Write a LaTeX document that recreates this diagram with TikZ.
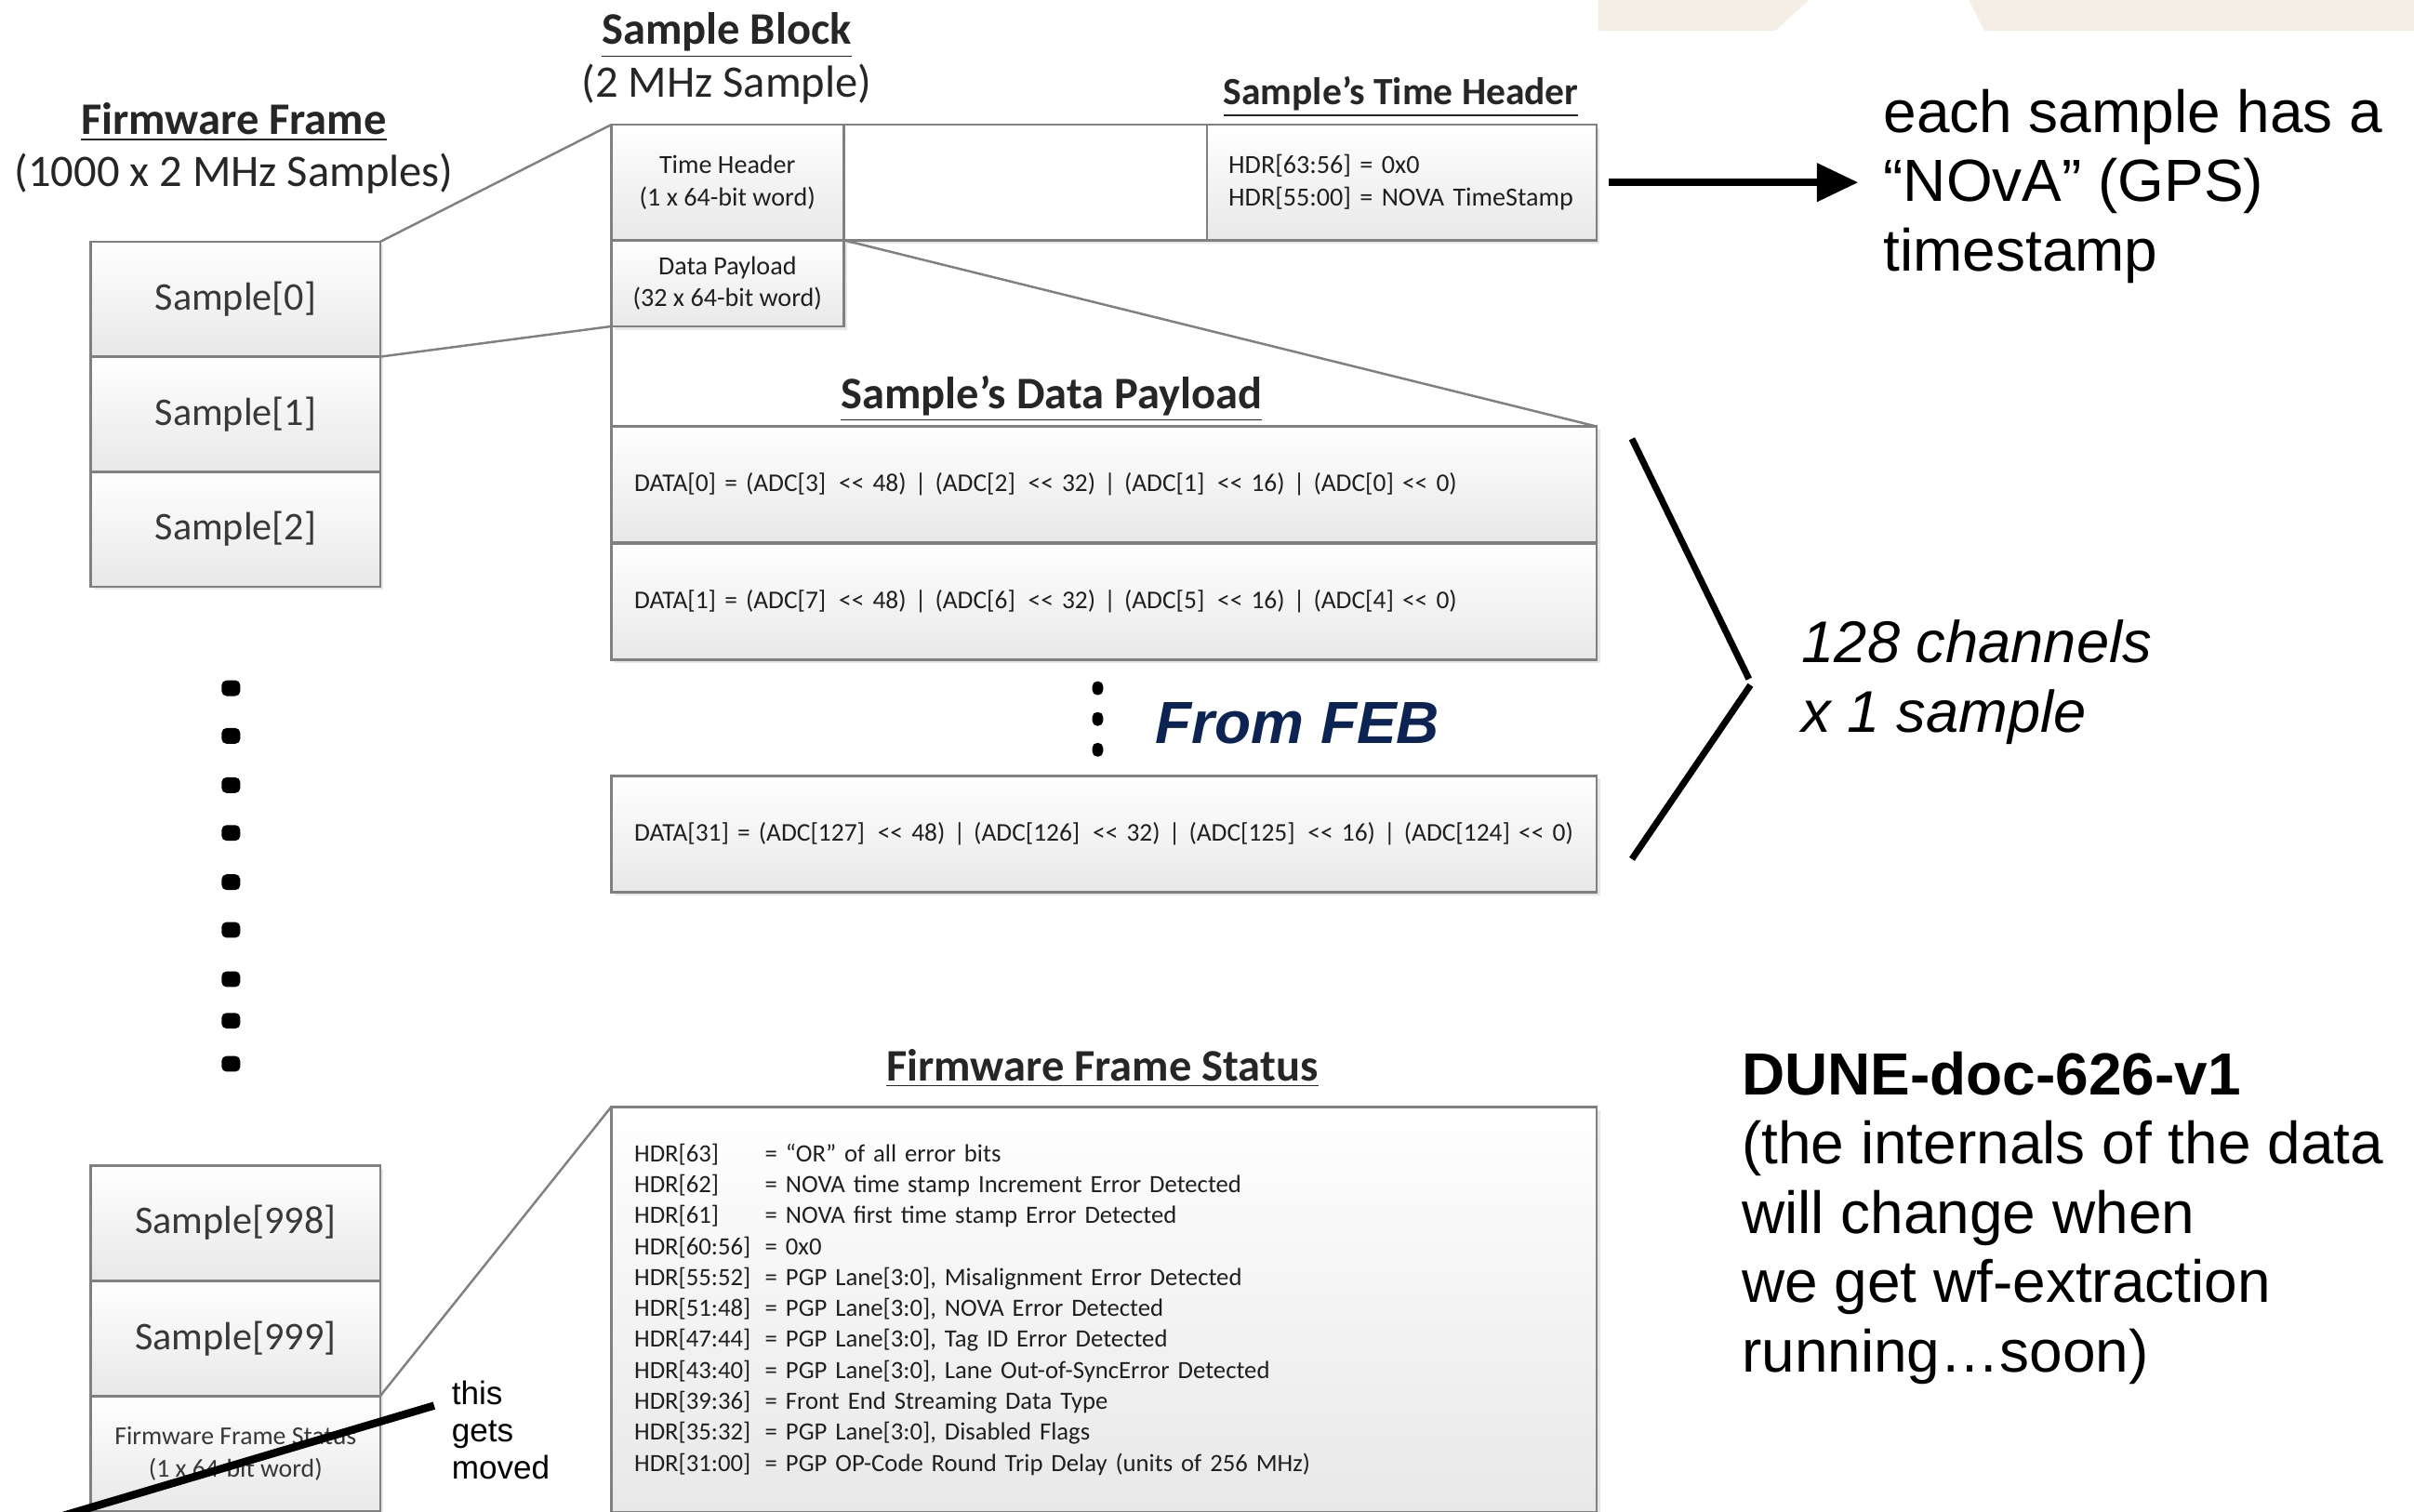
\documentclass[tikz,border=0pt]{standalone}
\usepackage{fontspec}
\setmainfont{Carlito}
\newfontfamily\arialfont{Liberation Sans}
\usetikzlibrary{arrows.meta,shadows}
\definecolor{febblue}{RGB}{12,36,84}
\definecolor{bandbeige}{RGB}{244,238,228}
\colorlet{boxline}{black!50}
\colorlet{boxtext}{black!78}
\newcommand{\spx}{0.4711pt}
\newcommand{\shl}{\mbox{<}\mbox{<}}
\newcommand{\hdr}[1]{\makebox[40pt][l]{#1}}
\begin{document}
\begin{tikzpicture}[x=\spx, y=-\spx,
	fwbox/.style={draw=boxline, line width=0.7pt, top color=white, bottom color=black!9, inner sep=0pt, outer sep=0pt, anchor=north west, text=boxtext, drop shadow={opacity=0.18, shadow xshift=1pt, shadow yshift=-1pt}},
	sampbox/.style={fwbox, minimum width=188*\spx, minimum height=74.7*\spx, font=\fontsize{12}{14}\selectfont},
	smallbox/.style={fwbox, align=center, text=black!88, font=\fontsize{8}{9.9}\selectfont},
	rowbox/.style={fwbox, text width=287.4pt, inner xsep=7.07pt, align=left, minimum height=75.5*\spx, text=black!88, font=\fontsize{7.8}{9.5}\selectfont},
	title/.style={inner sep=0pt, align=center, text=black!85, font=\fontsize{13.8}{16}\selectfont},
	note/.style={inner sep=0pt, anchor=west, align=left, font=\arialfont\fontsize{18.2}{21.2}\selectfont},
	bigdot/.style={fill=black, rounded corners=1.5pt, inner sep=0pt, minimum width=5.7pt, minimum height=4.8pt},
	smalldot/.style={fill=black, rounded corners=1.5pt, inner sep=0pt, minimum width=3.3pt, minimum height=4.2pt},
	zoomline/.style={draw=boxline, line width=0.7pt}
]
	\clip (0,0) rectangle (1568,982);
	\fill[white] (0,0) rectangle (1568,982);
	\fill[bandbeige] (1038,0) -- (1175,0) -- (1153,20) -- (1038,20) -- cycle;
	\fill[bandbeige] (1279,0) -- (1568,0) -- (1568,20) -- (1289,20) -- cycle;

	\node (fwtitle) at (152,96.5) [title] {\underline{\textbf{Firmware Frame}}\\(1000 x 2 MHz Samples)};
	\node (sbtitle) at (472,38) [title] {\underline{\textbf{Sample Block}}\\(2 MHz Sample)};
	\node (thtitle) at (910,63) [title, font=\fontsize{11.8}{14}\selectfont] {\underline{\textbf{Sample’s Time Header}}};
	\node (dptitle) at (683,259) [title] {\underline{\textbf{Sample’s Data Payload}}};
	\node (fstitle) at (716,694) [title] {\underline{\textbf{Firmware Frame Status}}};

	\node (s0) at (59,157) [sampbox] {Sample[0]};
	\node (s1) at (59,231.7) [sampbox] {Sample[1]};
	\node (s2) at (59,306.4) [sampbox] {Sample[2]};
	\foreach \y [count=\i] in {447,478,510,541,573,604,636,663,691}
		\node (dot\i) at (150,\y) [bigdot] {};
	\node (s998) at (59,757) [sampbox] {Sample[998]};
	\node (s999) at (59,832) [sampbox] {Sample[999]};
	\node (sfs) at (59,907) [sampbox, align=center, font=\fontsize{7.9}{9.9}\selectfont] {Firmware Frame Status\\(1 x 64-bit word)};

	\node (timehdr) at (397,81) [smallbox, minimum width=151*\spx, minimum height=75*\spx] {Time Header\\(1 x 64-bit word)};
	\node (midcell) at (548,81) [smallbox, top color=white, bottom color=white, minimum width=236*\spx, minimum height=75*\spx] {};
	\node (hdrcell) at (784,81) [smallbox, align=left, text width=106pt, inner xsep=6.6pt, minimum height=75*\spx] {HDR[63:56] = 0x0\\HDR[55:00] = NOVA TimeStamp};
	\node (datapay) at (397,156) [smallbox, minimum width=151*\spx, minimum height=56*\spx] {Data Payload\\(32 x 64-bit word)};

	\node (data0) at (397,277) [rowbox] {DATA[0] = (ADC[3]\enskip\shl{} 48) | (ADC[2]\enskip\shl{} 32) | (ADC[1]\enskip\shl{} 16) | (ADC[0] \shl{} 0)};
	\node (data1) at (397,353) [rowbox] {DATA[1] = (ADC[7]\enskip\shl{} 48) | (ADC[6]\enskip\shl{} 32) | (ADC[5]\enskip\shl{} 16) | (ADC[4] \shl{} 0)};
	\foreach \y [count=\i] in {447,467,487}
		\node (fdot\i) at (713,\y) [smalldot] {};
	\node (feb) at (750,470) [anchor=west, inner sep=0pt, text=febblue, font=\arialfont\bfseries\itshape\fontsize{18.2}{21}\selectfont] {From FEB};
	\node (data31) at (397,504) [rowbox] {DATA[31] = (ADC[127]\enskip\shl{} 48) | (ADC[126]\enskip\shl{} 32) | (ADC[125]\enskip\shl{} 16) | (ADC[124] \shl{} 0)};

	\node (status) at (397,719) [rowbox, minimum height=263*\spx, font=\fontsize{7.6}{9.47}\selectfont] {\hdr{HDR[63]}= “OR” of all error bits\\
		\hdr{HDR[62]}= NOVA time stamp Increment Error Detected\\
		\hdr{HDR[61]}= NOVA first time stamp Error Detected\\
		\hdr{HDR[60:56]}= 0x0\\
		\hdr{HDR[55:52]}= PGP Lane[3:0], Misalignment Error Detected\\
		\hdr{HDR[51:48]}= PGP Lane[3:0], NOVA Error Detected\\
		\hdr{HDR[47:44]}= PGP Lane[3:0], Tag ID Error Detected\\
		\hdr{HDR[43:40]}= PGP Lane[3:0], Lane Out-of-SyncError Detected\\
		\hdr{HDR[39:36]}= Front End Streaming Data Type\\
		\hdr{HDR[35:32]}= PGP Lane[3:0], Disabled Flags\\
		\hdr{HDR[31:00]}= PGP OP-Code Round Trip Delay (units of 256 MHz)};

	\node (note) at (1223,121) [note] {each sample has a\\“NOvA” (GPS)\\timestamp};
	\node (chans) at (1170,443) [note, font=\arialfont\itshape\fontsize{18}{21.2}\selectfont] {128 channels\\x 1 sample};
	\node (dune) at (1131,791) [note] {\textbf{DUNE-doc-626-v1}\\(the internals of the data\\will change when\\we get wf-extraction\\running…soon)};
	\node (moved) at (293,929) [note, font=\arialfont\fontsize{10}{11.3}\selectfont] {this\\gets\\moved};

	\coordinate (chA) at (1060,285);
	\coordinate (chB) at (1136,441);
	\coordinate (chC) at (1137,445);
	\coordinate (chD) at (1060,558);
	\coordinate (mvA) at (36,986);
	\coordinate (mvB) at (282,913);

	\draw[zoomline]
	(s0.north east) edge (timehdr.north west)
	(s0.south east) edge (datapay.south west)
	(datapay.south west) edge (data0.north west)
	(datapay.north east) edge (data0.north east)
	(s999.south east) edge (status.north west)
	;
	\draw[line width=2pt] (chA) -- (chB) (chC) -- (chD);
	\draw[line width=2.4pt] (mvA) -- (mvB);
	\draw[-{Triangle[length=12.7pt,width=11.3pt]}, line width=2.4pt, shorten <=3.8pt, shorten >=7.5pt] (hdrcell.east) -- (hdrcell.east -| note.west);
\end{tikzpicture}
\end{document}
